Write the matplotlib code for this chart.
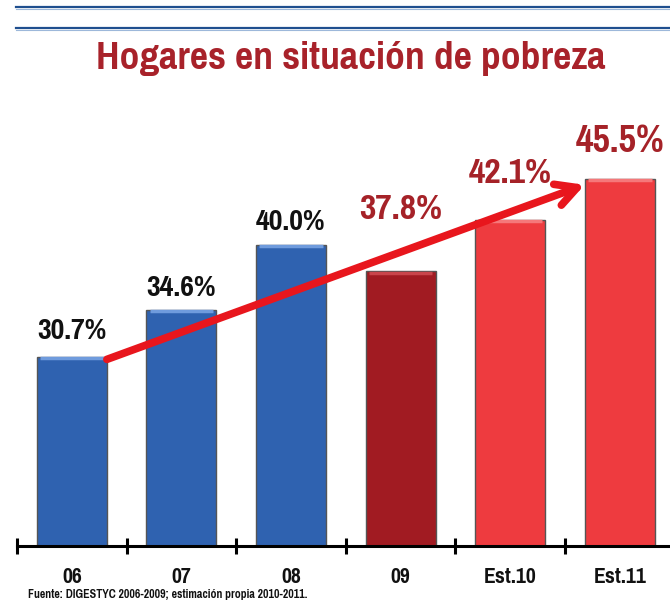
"""Hogares en situación de pobreza - gráfico de barras"""

import matplotlib
matplotlib.use('Agg')
import matplotlib.pyplot as plt
from matplotlib.lines import Line2D

# datos
categorias = ['06', '07', '08', '09', 'Est.10', 'Est.11']
valores = [30.7, 34.6, 40.0, 37.8, 42.1, 45.5]
etiquetas = ['30.7%', '34.6%', '40.0%', '37.8%', '42.1%', '45.5%']

colores = ['#2F62B0', '#2F62B0', '#2F62B0', '#A11B22', '#EE3B3F', '#EE3B3F']
brillo = ['#6F9BDD', '#6F9BDD', '#6F9BDD', '#C9454B', '#F5787A', '#F5787A']
color_etq = ['#111111', '#111111', '#111111', '#A52228', '#A52228', '#A52228']
tam_etq = [23.5, 23.5, 23.5, 28, 28, 30]
desp_etq = [26, 23, 23, 62, 47, 37]  # px sobre la barra

FUENTE = ['Pragati Narrow', 'Archivo Narrow', 'Roboto Condensed', 'Arimo', 'DejaVu Sans']
plt.rcParams['font.family'] = FUENTE

fig = plt.figure(figsize=(6.7, 6.03), dpi=100)
W, H = 670, 603
ax = fig.add_axes([17 / W, (H - 546) / H, 657.6 / W, 446 / H])

x = list(range(len(categorias)))
ancho = 0.64
ax.bar(x, [v - 15 for v in valores], bottom=15, width=ancho, color=colores,
       edgecolor='#555555', linewidth=1.0, zorder=2)
# brillo superior de cada barra
for i, v in enumerate(valores):
    ax.plot([i - ancho / 2 + 0.03, i + ancho / 2 - 0.03], [v - 0.12, v - 0.12],
            color=brillo[i], linewidth=2.5, solid_capstyle='butt', zorder=3)

ax.set_xlim(-0.5, 5.5)
ax.set_ylim(15, 15 + 446 / 12.04)

for i, v in enumerate(valores):
    ax.annotate(etiquetas[i], (i, v), xytext=(0, desp_etq[i]),
                textcoords='offset pixels', ha='center', va='center',
                fontsize=tam_etq[i], fontweight='bold', color=color_etq[i],
                zorder=5)

# flecha de tendencia
ax.annotate('', xy=(5 - ancho / 2, valores[-1] - 0.5),
            xytext=(0 + ancho / 2, valores[0] - 0.2),
            arrowprops=dict(arrowstyle='->,head_length=1.5,head_width=0.8',
                            color='#E8161D', lw=5.5, shrinkA=0, shrinkB=0),
            zorder=6)

for lado in ['top', 'right', 'left']:
    ax.spines[lado].set_visible(False)
ax.spines['bottom'].set_linewidth(2.2)
ax.spines['bottom'].set_zorder(4)
ax.set_yticks([])
ax.set_xticks(x)
ax.set_xticklabels(categorias, fontsize=17, fontweight='bold', color='#111111')
ax.tick_params(axis='x', which='major', length=0, pad=15)
ax.set_xticks([i - 0.5 for i in range(len(categorias) + 1)], minor=True)
ax.tick_params(axis='x', which='minor', direction='inout', length=12, width=2.2)

# lineas azules superiores
for yy in [7, 28]:
    fig.add_artist(Line2D([16 / W, 1], [1 - yy / H, 1 - yy / H],
                          color='#1F4F8F', linewidth=1.6))
    fig.add_artist(Line2D([16 / W, 1], [1 - (yy + 1.5) / H, 1 - (yy + 1.5) / H],
                          color='#9DB8DA', linewidth=0.8))

fig.text(351 / W, 1 - 58 / H, 'Hogares en situación de pobreza', ha='center',
         va='center', fontsize=31, fontweight='bold', color='#A8222A')
fig.text(28 / W, 1 - 594 / H,
         'Fuente: DIGESTYC 2006-2009; estimación propia 2010-2011.',
         ha='left', va='center', fontsize=9.3, fontweight='bold', color='#111111')

plt.savefig('out.png', dpi=100)
